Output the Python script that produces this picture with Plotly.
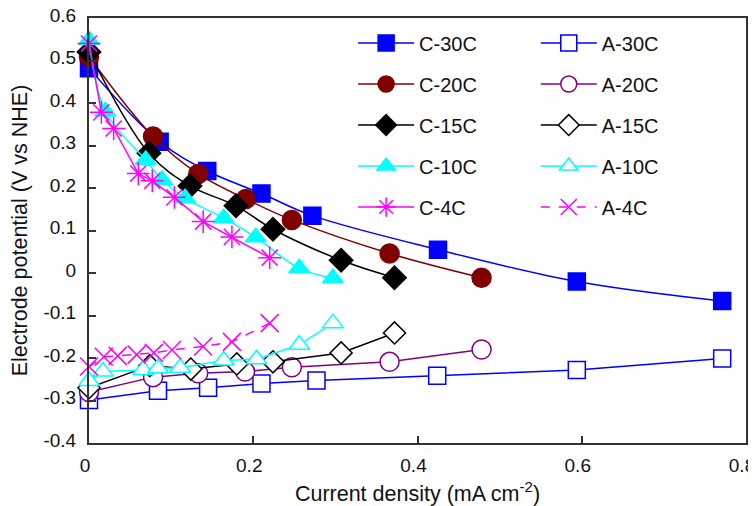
import plotly.graph_objects as go

# ---- data (current density mA cm-2, electrode potential V vs NHE) ----
c30_x = [0.0, 0.086, 0.144, 0.210, 0.272, 0.425, 0.594, 0.771]
c30_y = [0.482, 0.309, 0.240, 0.187, 0.135, 0.055, -0.020, -0.066]

c20_x = [0.0, 0.078, 0.133, 0.191, 0.247, 0.366, 0.478]
c20_y = [0.509, 0.321, 0.233, 0.174, 0.125, 0.046, -0.011]

c15_x = [0.0, 0.073, 0.123, 0.179, 0.224, 0.307, 0.372]
c15_y = [0.52, 0.282, 0.205, 0.158, 0.103, 0.030, -0.011]

c10_x = [0.0, 0.020, 0.069, 0.089, 0.117, 0.164, 0.203, 0.256, 0.297]
c10_y = [0.548, 0.380, 0.266, 0.219, 0.176, 0.129, 0.084, 0.011, -0.012]

c4_x = [0.0, 0.015, 0.030, 0.060, 0.077, 0.104, 0.139, 0.174, 0.220]
c4_y = [0.540, 0.378, 0.340, 0.234, 0.217, 0.178, 0.121, 0.085, 0.036]

a30_x = [0.0, 0.084, 0.145, 0.210, 0.277, 0.424, 0.594, 0.771]
a30_y = [-0.299, -0.277, -0.270, -0.260, -0.253, -0.242, -0.228, -0.201]

a20_x = [0.0, 0.078, 0.133, 0.190, 0.247, 0.366, 0.478]
a20_y = [-0.280, -0.245, -0.236, -0.232, -0.222, -0.209, -0.180]

a15_x = [0.0, 0.074, 0.124, 0.180, 0.224, 0.307, 0.372]
a15_y = [-0.270, -0.218, -0.226, -0.214, -0.209, -0.188, -0.141]

a10_x = [0.0, 0.017, 0.066, 0.084, 0.111, 0.164, 0.204, 0.256, 0.297]
a10_y = [-0.254, -0.232, -0.228, -0.224, -0.223, -0.206, -0.203, -0.169, -0.118]

a4_x = [0.0, 0.018, 0.035, 0.058, 0.079, 0.101, 0.139, 0.174, 0.220]
a4_y = [-0.220, -0.197, -0.195, -0.192, -0.188, -0.181, -0.173, -0.162, -0.118]

x_tickvals = [0, 0.2, 0.4, 0.6, 0.8]
x_ticktext = ["0", "0.2", "0.4", "0.6", "0.8"]
y_tickvals = [-0.4, -0.3, -0.2, -0.1, 0, 0.1, 0.2, 0.3, 0.4, 0.5, 0.6]
y_ticktext = ["-0.4", "-0.3", "-0.2", "-0.1", "0", "0.1", "0.2", "0.3", "0.4", "0.5", "0.6"]

FONT = "Liberation Sans, Arial, sans-serif"

fig = go.Figure()

def add(name, x, y, color, symbol, fill, size, legend, shape, dash="solid", mlw=1.5):
    fig.add_trace(go.Scatter(
        x=x, y=y, name=name, mode="lines+markers",
        line=dict(color=color, width=1.5, shape=shape, smoothing=1.0, dash=dash),
        marker=dict(symbol=symbol, size=size, color=fill,
                    line=dict(color=color, width=mlw)),
        cliponaxis=False, legend=legend, legendgroup=name,
    ))

# cathode series (filled markers)
add("C-30C", c30_x, c30_y, "#0000FF", "square", "#0000FF", 17, "legend", "spline")
add("C-20C", c20_x, c20_y, "#800000", "circle", "#800000", 19, "legend", "spline")
add("C-15C", c15_x, c15_y, "#000000", "diamond", "#000000", 18, "legend", "spline")
add("C-10C", c10_x, c10_y, "#00FFFF", "triangle-up", "#00FFFF", 18, "legend", "spline")
add("C-4C", c4_x, c4_y, "#FF00FF", "asterisk-open", "#FF00FF", 19, "legend", "linear")

# anode series (open markers)
add("A-30C", a30_x, a30_y, "#0000FF", "square", "white", 17, "legend2", "linear")
add("A-20C", a20_x, a20_y, "#800080", "circle", "white", 19, "legend2", "linear")
add("A-15C", a15_x, a15_y, "#000000", "diamond", "white", 17, "legend2", "linear")
add("A-10C", a10_x, a10_y, "#00FFFF", "triangle-up", "white", 18, "legend2", "linear")
add("A-4C", a4_x, a4_y, "#FF00FF", "x-thin-open", "#FF00FF", 18, "legend2", "linear", dash="dash")

axis_common = dict(
    showline=True, linecolor="#333333", linewidth=2, mirror=True,
    ticks="inside", ticklen=7, tickwidth=2, tickcolor="#333333",
    showgrid=False, zeroline=False, automargin=False,
    ticklabeloverflow="allow",
    tickfont=dict(family=FONT, size=19, color="#111111"),
)

# the page body adds an 8px offset, so the figure is 8px smaller than the window
fig.update_layout(
    width=748, height=498,
    margin=dict(l=81, r=10, t=10, b=63, autoexpand=False),
    paper_bgcolor="white", plot_bgcolor="white",
    font=dict(family=FONT, color="#111111"),
    xaxis=dict(range=[0, 0.8], tickvals=x_tickvals, ticktext=x_ticktext,
               title=dict(text="Current density (mA cm<sup>-2</sup>)",
                          font=dict(family=FONT, size=21.5)),
               ticklabelstandoff=4, ticklabelshift=-4,
               **axis_common),
    yaxis=dict(range=[-0.4, 0.6], tickvals=y_tickvals, ticktext=y_ticktext,
               title=dict(text="Electrode potential (V vs NHE)",
                          font=dict(family=FONT, size=21.5)),
               ticklabelstandoff=7, ticklabelshift=-3,
               **axis_common),
    legend=dict(x=0.402, y=0.987, xanchor="left", yanchor="top",
                bgcolor="rgba(0,0,0,0)", itemwidth=56, tracegroupgap=12,
                font=dict(family=FONT, size=20, color="#111111")),
    legend2=dict(x=0.680, y=0.987, xanchor="left", yanchor="top",
                 bgcolor="rgba(0,0,0,0)", itemwidth=56, tracegroupgap=12,
                 font=dict(family=FONT, size=20, color="#111111")),
    showlegend=True,
)

fig.write_html("out.html")
